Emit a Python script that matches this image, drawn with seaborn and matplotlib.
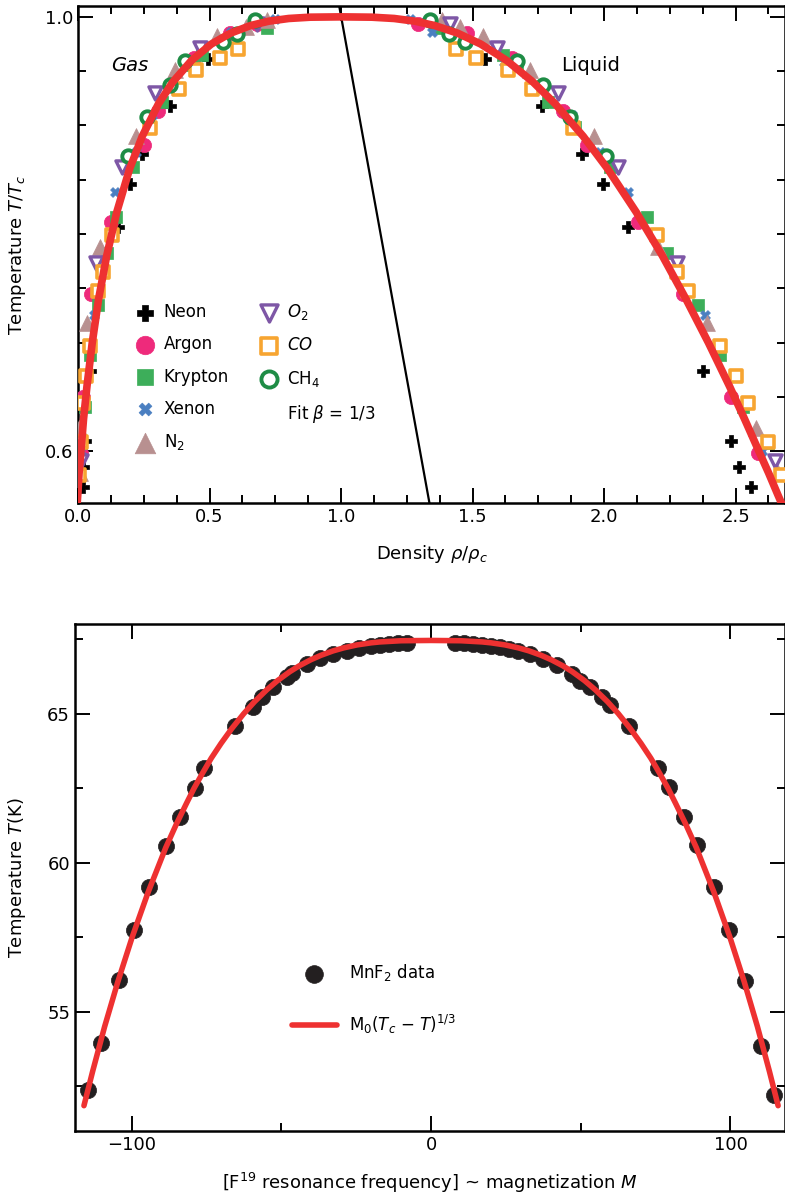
import matplotlib
matplotlib.use("Agg")
import matplotlib.pyplot as plt
import seaborn as sns
import numpy as np
from matplotlib.ticker import MultipleLocator, FixedLocator, FormatStrFormatter

# ---- top panel: reduced coexistence curves (Guggenheim) ----
# reduced temperature T/Tc of each point, gas-side density, liquid-side density
neon_t = [0.961, 0.918, 0.874, 0.846, 0.807, 0.674, 0.610, 0.586, 0.567]
neon_gas = [0.494, 0.350, 0.243, 0.198, 0.152, 0.045, 0.025, 0.020, 0.018]
neon_liq = [1.548, 1.764, 1.916, 1.996, 2.091, 2.376, 2.483, 2.513, 2.559]

argon_t = [0.993, 0.985, 0.962, 0.913, 0.882, 0.811, 0.745, 0.650, 0.599]
argon_gas = [0.680, 0.578, 0.440, 0.305, 0.250, 0.125, 0.050, 0.020, 0.012]
argon_liq = [1.293, 1.479, 1.650, 1.844, 1.935, 2.129, 2.300, 2.483, 2.586]

krypton_t = [0.990, 0.965, 0.956, 0.922, 0.899, 0.862, 0.816, 0.783, 0.735, 0.689, 0.641, 0.608]
krypton_gas = [0.720, 0.470, 0.430, 0.320, 0.270, 0.210, 0.145, 0.110, 0.075, 0.045, 0.025, 0.013]
krypton_liq = [1.360, 1.616, 1.669, 1.787, 1.890, 2.023, 2.163, 2.240, 2.357, 2.441, 2.528, 2.624]

xenon_t = [0.998, 0.986, 0.958, 0.910, 0.876, 0.839, 0.726, 0.600]
xenon_gas = [0.750, 0.580, 0.420, 0.280, 0.220, 0.140, 0.060, 0.010]
xenon_liq = [1.262, 1.346, 1.620, 1.878, 1.985, 2.091, 2.384, 2.600]

n2_t = [0.997, 0.991, 0.982, 0.951, 0.890, 0.788, 0.718, 0.622, 0.580]
n2_gas = [0.720, 0.640, 0.530, 0.370, 0.220, 0.085, 0.035, 0.002, 0.008]
n2_liq = [1.384, 1.452, 1.540, 1.719, 1.962, 2.205, 2.392, 2.578, 2.660]

o2_t = [0.993, 0.971, 0.930, 0.862, 0.773, 0.591]
o2_gas = [0.680, 0.464, 0.293, 0.167, 0.068, 0.010]
o2_liq = [1.414, 1.593, 1.825, 2.053, 2.278, 2.650]

co_t = [0.970, 0.962, 0.951, 0.934, 0.898, 0.799, 0.765, 0.748, 0.697, 0.669, 0.645, 0.609, 0.578]
co_gas = [0.610, 0.540, 0.450, 0.385, 0.275, 0.130, 0.095, 0.075, 0.045, 0.030, 0.020, 0.010, 0.003]
co_liq = [1.437, 1.513, 1.635, 1.726, 1.882, 2.202, 2.278, 2.319, 2.441, 2.502, 2.548, 2.624, 2.673]

ch4_t = [0.997, 0.984, 0.977, 0.959, 0.937, 0.908, 0.872]
ch4_gas = [0.673, 0.605, 0.550, 0.406, 0.350, 0.262, 0.190]
ch4_liq = [1.338, 1.411, 1.471, 1.670, 1.768, 1.870, 2.008]

# fit curve (beta = 1/3), gas branch up to the top then liquid branch down
fit_t = [0.55, 0.56, 0.58, 0.60, 0.63, 0.66, 0.70, 0.74, 0.78, 0.82, 0.86, 0.89, 0.92,
         0.94, 0.96, 0.975, 0.985, 0.992, 0.996, 0.9985, 0.9997, 1.0,
         0.9997, 0.9985, 0.996, 0.992, 0.985, 0.975, 0.96, 0.94, 0.92, 0.89, 0.86,
         0.82, 0.78, 0.74, 0.70, 0.66, 0.63, 0.60, 0.58, 0.56, 0.55]
fit_rho = [-0.004, -0.001, 0.004, 0.011, 0.021, 0.034, 0.054, 0.078, 0.109, 0.147, 0.196, 0.244, 0.306,
           0.360, 0.432, 0.507, 0.580, 0.656, 0.725, 0.801, 0.883, 1.000,
           1.117, 1.202, 1.281, 1.356, 1.443, 1.531, 1.629, 1.730, 1.814, 1.921, 2.014,
           2.123, 2.222, 2.312, 2.397, 2.477, 2.534, 2.589, 2.626, 2.661, 2.679]

# rectilinear diameter
diam_rho = [0.993, 1.338]
diam_t = [1.010, 0.550]

# ---- bottom panel: MnF2 ----
mnf2_M = [-114.5, -110.2, -104.2, -99.2, -94.2, -88.5, -83.8, -78.8, -75.8, -65.4, -59.4, -56.4,
          -52.8, -48.1, -46.4, -41.4, -37.1, -32.7, -28.0, -24.0, -20.0, -17.0, -14.0, -11.0, -8.0,
          8.0, 11.0, 14.0, 17.0, 20.0, 23.0, 26.0, 29.0, 33.1, 37.4, 42.1, 47.1, 49.7, 53.1,
          57.1, 59.8, 66.1, 75.8, 79.5, 84.5, 88.8, 94.5, 99.5, 104.8, 110.2, 114.5]
mnf2_T = [52.36, 53.96, 56.07, 57.74, 59.18, 60.55, 61.52, 62.49, 63.16, 64.57, 65.23, 65.54,
          65.90, 66.24, 66.37, 66.67, 66.87, 67.01, 67.11, 67.20, 67.25, 67.30, 67.33, 67.35, 67.36,
          67.36, 67.35, 67.33, 67.30, 67.26, 67.22, 67.16, 67.08, 67.00, 66.84, 66.64, 66.34, 66.10, 65.90,
          65.54, 65.27, 64.57, 63.16, 62.53, 61.52, 60.59, 59.18, 57.74, 56.04, 53.86, 52.22]

fit_M = [-115.9, -113.0, -109.0, -104.6, -99.8, -94.5, -88.6, -85.0, -81.6, -79.1, -76.3, -73.4,
         -70.1, -66.5, -62.5, -58.9, -54.8, -51.3, -47.2, -44.0, -40.2, -36.8, -32.7, -29.2,
         -24.7, -20.0, -17.1, -10.0, 0.0,
         10.0, 17.1, 20.0, 24.7, 29.2, 32.7, 36.8, 40.2, 44.0, 47.2, 51.3, 54.8, 58.9, 62.5,
         66.5, 70.1, 73.4, 76.3, 79.1, 81.6, 85.0, 88.6, 94.5, 99.8, 104.6, 109.0, 113.0, 115.9]
fit_T = [51.85, 53.0, 54.5, 56.0, 57.5, 59.0, 60.5, 61.3, 62.0, 62.5, 63.0, 63.5,
         64.0, 64.5, 65.0, 65.4, 65.8, 66.1, 66.4, 66.6, 66.8, 66.95, 67.1, 67.2,
         67.3, 67.37, 67.4, 67.44, 67.45,
         67.44, 67.4, 67.37, 67.3, 67.2, 67.1, 66.95, 66.8, 66.6, 66.4, 66.1, 65.8, 65.4, 65.0,
         64.5, 64.0, 63.5, 63.0, 62.5, 62.0, 61.3, 60.5, 59.0, 57.5, 56.0, 54.5, 53.0, 51.85]

sns.set_style("ticks")
plt.rcParams["font.family"] = ["DejaVu Sans"]
plt.rcParams["text.color"] = "black"
plt.rcParams["axes.labelcolor"] = "black"

RED = "#EE3131"

fig = plt.figure(figsize=(7.85, 11.98), dpi=100)
ax1 = fig.add_axes([0.0994, 0.5801, 0.9006, 0.4149])
ax2 = fig.add_axes([0.0955, 0.0559, 0.9045, 0.4232])

# species styles: (label, t, gas, liquid, marker, size, face, edge, lw)
species = [
    ("Neon", neon_t, neon_gas, neon_liq, "P", 75, "black", "black", 0.5),
    ("Argon", argon_t, argon_gas, argon_liq, "o", 105, "#EE2A7B", "#EE2A7B", 0.5),
    ("Krypton", krypton_t, krypton_gas, krypton_liq, "s", 85, "#3DAE5A", "#3DAE5A", 0.5),
    ("Xenon", xenon_t, xenon_gas, xenon_liq, "X", 50, "#4A7FC1", "#4A7FC1", 0.5),
    (r"N$_2$", n2_t, n2_gas, n2_liq, "^", 130, "#B89090", "#B89090", 0.5),
    (r"$O_2$", o2_t, o2_gas, o2_liq, "v", 90, "white", "#7E57A6", 2.4),
    (r"$CO$", co_t, co_gas, co_liq, "s", 78, "white", "#F7A531", 2.6),
    (r"CH$_4$", ch4_t, ch4_gas, ch4_liq, "o", 80, "white", "#1E8C45", 2.8),
]

sns.lineplot(x=diam_rho, y=diam_t, color="black", linewidth=1.6, ax=ax1, sort=False, estimator=None)

for lab, t, g, l, m, s, fc, ec, lw in species:
    sns.scatterplot(x=g + l, y=t + t, marker=m, s=s, color=ec, facecolor=fc, edgecolor=ec,
                    linewidth=lw, ax=ax1, label=lab, zorder=3)

sns.lineplot(x=fit_rho, y=fit_t, color=RED, linewidth=5.5, ax=ax1, sort=False,
             estimator=None, label=r"Fit $\beta$ = 1/3", zorder=4)

ax1.set_xlim(0, 2.688)
ax1.set_ylim(0.5525, 1.010)
ax1.xaxis.set_major_locator(MultipleLocator(0.5))
ax1.xaxis.set_minor_locator(MultipleLocator(0.125))
ax1.yaxis.set_major_locator(FixedLocator([0.6, 1.0]))
ax1.yaxis.set_minor_locator(MultipleLocator(0.05))
ax1.xaxis.set_major_formatter(FormatStrFormatter("%.1f"))
ax1.yaxis.set_major_formatter(FormatStrFormatter("%.1f"))

ax1.text(0.198, 0.955, "Gas", fontsize=14, style="italic", ha="center", va="center")
ax1.text(1.947, 0.955, "Liquid", fontsize=14, ha="center", va="center")

ax1.set_xlabel(r"Density $\rho/\rho_c$", fontsize=13, labelpad=12)
ax1.set_ylabel(r"Temperature $T/T_c$", fontsize=13, labelpad=12)

leg1 = ax1.legend(loc="upper left", bbox_to_anchor=(0.0835, 0.404), ncol=2, frameon=False,
                  fontsize=12, handlelength=1.0, handletextpad=0.6, columnspacing=1.9,
                  labelspacing=0.85, borderpad=0, borderaxespad=0, markerscale=1.3)
leg1.legend_handles[-1].set_visible(False)

# bottom panel
sns.lineplot(x=fit_M, y=fit_T, color=RED, linewidth=4.0, ax=ax2, sort=False, estimator=None,
             label=r"M$_0$($T_c$ $-$ $T$)$^{1/3}$", zorder=4)
sns.scatterplot(x=mnf2_M, y=mnf2_T, color="#231F20", s=135, edgecolor="#231F20", linewidth=0.5,
                ax=ax2, label=r"MnF$_2$ data", zorder=3)

ax2.set_xlim(-118.9, 118.2)
ax2.set_ylim(51.0, 68.0)
ax2.xaxis.set_major_locator(MultipleLocator(100))
ax2.xaxis.set_minor_locator(MultipleLocator(50))
ax2.yaxis.set_major_locator(MultipleLocator(5))
ax2.yaxis.set_minor_locator(MultipleLocator(2.5))
ax2.set_xlabel(r"[F$^{19}$ resonance frequency] ~ magnetization $M$", fontsize=13, labelpad=12)
ax2.set_ylabel(r"Temperature $T$(K)", fontsize=13, labelpad=14)

h, lab = ax2.get_legend_handles_labels()
ax2.legend([h[1], h[0]], [lab[1], lab[0]], loc="upper left", bbox_to_anchor=(0.3056, 0.333),
           frameon=False, fontsize=12, handlelength=2.7, handletextpad=0.7, labelspacing=1.8,
           borderpad=0, borderaxespad=0, markerscale=1.1)

for ax in (ax1, ax2):
    for sp in ax.spines.values():
        sp.set_visible(True)
        sp.set_linewidth(1.8)
        sp.set_color("black")
    ax.tick_params(which="both", top=True, right=True, direction="in", colors="black",
                   labelcolor="black", labelsize=13, width=1.4)
    ax.tick_params(which="major", length=11)
    ax.tick_params(which="minor", length=6)

fig.savefig("out.png", dpi=100)
